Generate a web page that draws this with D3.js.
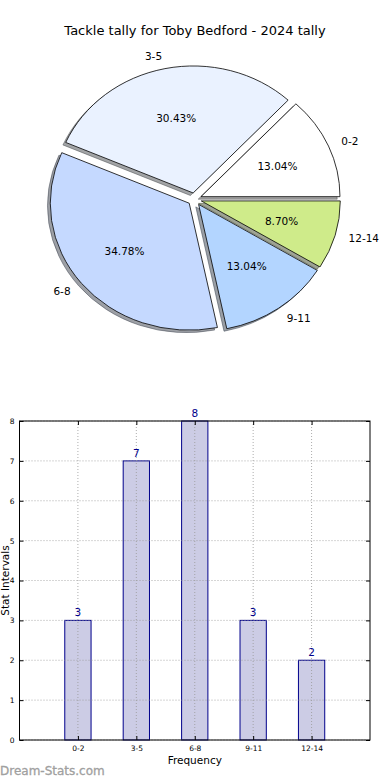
<!DOCTYPE html>
<html><head><meta charset="utf-8">
<script src="https://cdn.jsdelivr.net/npm/d3@7"></script>
<style>body{margin:0;background:#fff}svg{display:block;font-family:"DejaVu Sans",sans-serif}</style>
</head><body><svg id="c" width="390" height="780"></svg>
<script>
const title = "Tackle tally for Toby Bedford - 2024 tally";
const categories = ["0-2","3-5","6-8","9-11","12-14"];
const counts = [3,7,8,3,2];
const pieColors = ["#FFFFFF","#EAF2FF","#C5D9FF","#B3D5FF","#CFEB8A"];
const yTicks = [0,1,2,3,4,5,6,7,8];
const xLabel = "Frequency";
const yLabel = "Stat Intervals";
const watermark = "Dream-Stats.com";

const svg = d3.select("#c");
svg.append("text").attr("x",195).attr("y",35).attr("text-anchor","middle")
  .attr("font-size",13).text(title);

// Pie (elliptical, as matplotlib without equal aspect)
const cx=194.6, cy=199.2, rx=139, ry=127, explode=0.05;
const total = d3.sum(counts);
const pie = d3.pie().sort(null).startAngle(Math.PI/2).endAngle(Math.PI/2-2*Math.PI);
const arcs = pie(counts);
const arc = d3.arc().innerRadius(0).outerRadius(1);
const pg = svg.append("g");
function c3(col){const c=d3.rgb(col);return d3.rgb(c.r*0.3,c.g*0.3,c.b*0.3).toString();}
arcs.forEach((a,i)=>{
  const m=(a.startAngle+a.endAngle)/2;
  const ox=cx+explode*rx*Math.sin(m), oy=cy-explode*ry*Math.cos(m);
  pg.append("path").attr("d",arc(a))
    .attr("transform",`translate(${ox-2.8},${oy+2.5}) scale(${rx},${ry})`)
    .attr("fill",c3(pieColors[i])).attr("fill-opacity",0.5)
    .attr("stroke",c3(pieColors[i])).attr("stroke-opacity",0.5)
    .attr("stroke-width",1).attr("vector-effect","non-scaling-stroke");
});
arcs.forEach((a,i)=>{
  const m=(a.startAngle+a.endAngle)/2;
  const ox=cx+explode*rx*Math.sin(m), oy=cy-explode*ry*Math.cos(m);
  pg.append("path").attr("d",arc(a))
    .attr("transform",`translate(${ox},${oy}) scale(${rx},${ry})`)
    .attr("fill",pieColors[i]).attr("stroke","#000").attr("stroke-width",0.8)
    .attr("vector-effect","non-scaling-stroke");
  const s=Math.sin(m), c=Math.cos(m);
  pg.append("text").attr("x",ox+1.1*rx*s).attr("y",oy-1.1*ry*c)
    .attr("dy","0.35em").attr("font-size",10.5)
    .attr("text-anchor", s>0?"start":"end").text(categories[i]);
  pg.append("text").attr("x",ox+0.6*rx*s).attr("y",oy-0.6*ry*c)
    .attr("dy","0.35em").attr("font-size",10.5)
    .attr("text-anchor","middle").text((counts[i]/total*100).toFixed(2)+"%");
});

// Bar chart
const L=19.5,R=370,T=421,B=740;
const x=d3.scaleLinear().domain([-1,5]).range([L,R]);
const y=d3.scaleLinear().domain([0,8]).range([B,T]);
const bg=svg.append("g");
const bw=0.45;
bg.selectAll(".bar").data(counts).join("rect")
  .attr("x",(d,i)=>x(i-bw/2)).attr("width",x(bw)-x(0))
  .attr("y",d=>y(d)).attr("height",d=>B-y(d))
  .attr("fill","#CCCCE5").attr("stroke","#00008B").attr("stroke-width",1);
// grid (drawn above bars, as in the reference)
bg.selectAll(".gx").data(categories).join("line").attr("y1",T).attr("y2",B)
  .attr("x1",(d,i)=>x(i)).attr("x2",(d,i)=>x(i)).attr("stroke","#999").attr("stroke-dasharray","1,2").attr("stroke-opacity",0.8);
bg.selectAll(".gy").data(yTicks).join("line").attr("x1",L).attr("x2",R)
  .attr("y1",d=>y(d)).attr("y2",d=>y(d)).attr("stroke","#999").attr("stroke-dasharray","1,2").attr("stroke-opacity",0.8);
// value labels
bg.selectAll(".vl").data(counts).join("text")
  .attr("x",(d,i)=>x(i)).attr("y",d=>y(d)-4).attr("text-anchor","middle")
  .attr("font-size",10.5).attr("fill","#00008B").text(d=>d);
// frame
bg.append("rect").attr("x",L).attr("y",T).attr("width",R-L).attr("height",B-T)
  .attr("fill","none").attr("stroke","#000").attr("stroke-width",1);
// axes
const ya=d3.axisLeft(y).tickValues(yTicks).tickSize(-4).tickPadding(5).tickFormat(d3.format("d"));
const yg=bg.append("g").attr("transform",`translate(${L},0)`).call(ya);
yg.select(".domain").remove();
yg.selectAll("text").attr("font-size",7.5).attr("font-family","DejaVu Sans");
const yr=d3.axisRight(y).tickValues(yTicks).tickSize(-4).tickFormat("");
const yrg=bg.append("g").attr("transform",`translate(${R},0)`).call(yr); yrg.select(".domain").remove();
const xa=d3.axisBottom(x).tickValues([0,1,2,3,4]).tickSize(-4).tickPadding(6).tickFormat(i=>categories[i]);
const xg=bg.append("g").attr("transform",`translate(0,${B})`).call(xa);
xg.select(".domain").remove();
xg.selectAll("text").attr("font-size",7.5).attr("font-family","DejaVu Sans");
const xt=d3.axisTop(x).tickValues([0,1,2,3,4]).tickSize(-4).tickFormat("");
const xtg=bg.append("g").attr("transform",`translate(0,${T})`).call(xt); xtg.select(".domain").remove();

svg.append("text").attr("x",(L+R)/2).attr("y",764).attr("text-anchor","middle").attr("font-size",10.5).text(xLabel);
svg.append("text").attr("transform",`translate(9,${(T+B)/2}) rotate(-90)`).attr("text-anchor","middle").attr("font-size",10.5).text(yLabel);
svg.append("text").attr("x",0).attr("y",775).attr("font-size",12).attr("fill","#a0a0a0").attr("stroke","#a0a0a0").attr("stroke-width",0.3).text(watermark);
</script></body></html>
